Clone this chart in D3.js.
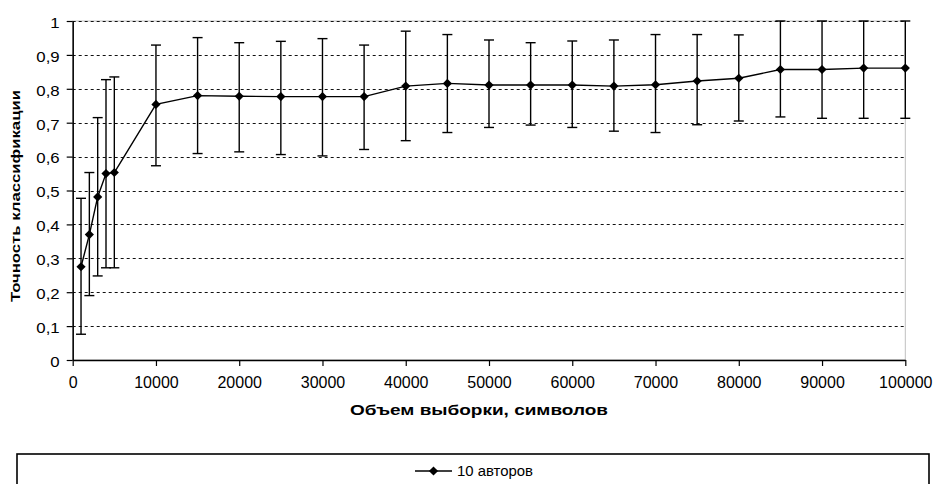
<!DOCTYPE html>
<html>
<head>
<meta charset="utf-8">
<script src="https://cdn.jsdelivr.net/npm/d3@7"></script>
<style>
  body { margin: 0; background: #fff; }
  svg { display: block; font-family: "Liberation Sans", Arial, sans-serif; }
</style>
</head>
<body>
<svg></svg>
<script>
var sizes = [1000, 2000, 3000, 4000, 5000, 10000, 15000, 20000, 25000, 30000, 35000, 40000,
  45000, 50000, 55000, 60000, 65000, 70000, 75000, 80000, 85000, 90000, 95000, 100000];
var accuracy = [0.275, 0.37, 0.481, 0.55, 0.553, 0.754, 0.78, 0.778, 0.777, 0.777, 0.777, 0.808,
  0.816, 0.811, 0.811, 0.811, 0.808, 0.812, 0.823, 0.831, 0.857, 0.857, 0.861, 0.861];
var upper = [0.477, 0.553, 0.715, 0.827, 0.835, 0.929, 0.951, 0.936, 0.94, 0.948, 0.929, 0.97,
  0.96, 0.944, 0.936, 0.941, 0.944, 0.96, 0.96, 0.959, 1, 1, 1, 1];
var lower = [0.076, 0.19, 0.248, 0.272, 0.272, 0.573, 0.609, 0.614, 0.606, 0.602, 0.621, 0.647,
  0.671, 0.686, 0.693, 0.686, 0.675, 0.671, 0.694, 0.705, 0.717, 0.713, 0.713, 0.713];
var xTicks = [0, 10000, 20000, 30000, 40000, 50000, 60000, 70000, 80000, 90000, 100000];
var yTicks = [0, 0.1, 0.2, 0.3, 0.4, 0.5, 0.6, 0.7, 0.8, 0.9, 1];
var seriesName = "10 авторов";
var xTitle = "Объем выборки, символов";
var yTitle = "Точность классификации";

var width = 935;
var height = 484;

var svg = d3.select('svg');
svg.attr('width', width).attr('height', height);

var x = d3.scaleLinear().domain([0, 100000]).range([72.7, 905.3]);
var y = d3.scaleLinear().domain([0, 1]).range([360, 21]);

var points = sizes.map(function (s, i) {
  return { x: s, y: accuracy[i], lo: lower[i], hi: upper[i] };
});

// plot area border (light gray, only visible top/right)
svg.append('rect')
  .attr('x', x(0)).attr('y', y(1))
  .attr('width', x(100000) - x(0)).attr('height', y(0) - y(1))
  .attr('fill', 'none').attr('stroke', '#c0c0c0').attr('stroke-width', 1);

// dotted gridlines
svg.append('g')
  .selectAll('line')
  .data(yTicks.filter(function (t) { return t > 0; }))
  .enter().append('line')
    .attr('x1', x(0)).attr('x2', x(100000))
    .attr('y1', function (t) { return Math.round(y(t)) + 0.5; })
    .attr('y2', function (t) { return Math.round(y(t)) + 0.5; })
    .attr('stroke', '#111')
    .attr('stroke-width', 1)
    .attr('stroke-dasharray', '3,3');

// axes
var xAxis = svg.append('g')
  .attr('transform', 'translate(0,' + y(0) + ')')
  .call(d3.axisBottom(x).tickValues(xTicks).tickSize(6).tickSizeOuter(0).tickFormat(d3.format('d')));
xAxis.select('.domain').attr('stroke', '#000').attr('stroke-width', 1.5);
xAxis.selectAll('.tick line').attr('stroke', '#000').attr('stroke-width', 1.2);
xAxis.selectAll('text')
  .attr('font-size', 16).attr('fill', '#000')
  .attr('y', 17).attr('dy', '0.71em')
  .attr('font-family', '"Liberation Sans", Arial, sans-serif');

var yAxis = svg.append('g')
  .attr('transform', 'translate(' + x(0) + ',0)')
  .call(d3.axisLeft(y).tickValues(yTicks).tickSize(6).tickSizeOuter(0)
    .tickFormat(function (d) { return d3.format('.1~f')(d).replace('.', ','); }));
yAxis.select('.domain').attr('stroke', '#000').attr('stroke-width', 1.5);
yAxis.selectAll('.tick line').attr('stroke', '#000').attr('stroke-width', 1.2);
yAxis.selectAll('text')
  .attr('font-size', 14).attr('fill', '#000')
  .attr('x', 0).attr('dy', '0.45em')
  .attr('transform', 'translate(-13,0) scale(1.2,1)')
  .attr('font-family', '"Liberation Sans", Arial, sans-serif');

// error bars
var bars = svg.append('g').selectAll('g')
  .data(points)
  .enter().append('g');
bars.append('line')
  .attr('x1', function (d) { return x(d.x); })
  .attr('x2', function (d) { return x(d.x); })
  .attr('y1', function (d) { return y(d.lo); })
  .attr('y2', function (d) { return y(d.hi); })
  .attr('stroke', '#000').attr('stroke-width', 1.4);
bars.append('line')
  .attr('x1', function (d) { return x(d.x) - 5; })
  .attr('x2', function (d) { return x(d.x) + 5; })
  .attr('y1', function (d) { return y(d.hi); })
  .attr('y2', function (d) { return y(d.hi); })
  .attr('stroke', '#000').attr('stroke-width', 1.4);
bars.append('line')
  .attr('x1', function (d) { return x(d.x) - 5; })
  .attr('x2', function (d) { return x(d.x) + 5; })
  .attr('y1', function (d) { return y(d.lo); })
  .attr('y2', function (d) { return y(d.lo); })
  .attr('stroke', '#000').attr('stroke-width', 1.4);

// series line
var line = d3.line()
  .x(function (d) { return x(d.x); })
  .y(function (d) { return y(d.y); });
svg.append('path')
  .datum(points)
  .attr('d', line)
  .attr('fill', 'none')
  .attr('stroke', '#000')
  .attr('stroke-width', 1.4);

var diamond = d3.symbol().type(d3.symbolSquare).size(42);
svg.append('g').selectAll('path')
  .data(points)
  .enter().append('path')
    .attr('d', diamond)
    .attr('transform', function (d) { return 'translate(' + x(d.x) + ',' + y(d.y) + ') rotate(45)'; })
    .attr('fill', '#000');

// axis titles
svg.append('text')
  .text(xTitle)
  .attr('x', 479).attr('y', 415)
  .attr('text-anchor', 'middle')
  .attr('font-size', 14).attr('font-weight', 'bold')
  .attr('textLength', 258).attr('lengthAdjust', 'spacingAndGlyphs');

svg.append('text')
  .text(yTitle)
  .attr('transform', 'translate(19.5,196) rotate(-90)')
  .attr('text-anchor', 'middle')
  .attr('font-size', 13.5).attr('font-weight', 'bold')
  .attr('textLength', 212).attr('lengthAdjust', 'spacingAndGlyphs');

// legend
var legend = svg.append('g');
legend.append('rect')
  .attr('x', 17).attr('y', 454)
  .attr('width', 912).attr('height', 60)
  .attr('fill', '#fff').attr('stroke', '#000').attr('stroke-width', 1.6);
legend.append('line')
  .attr('x1', 415).attr('x2', 452).attr('y1', 471).attr('y2', 471)
  .attr('stroke', '#000').attr('stroke-width', 1.4);
legend.append('path')
  .attr('d', diamond)
  .attr('transform', 'translate(433.5,471) rotate(45)')
  .attr('fill', '#000');
legend.append('text')
  .text(seriesName)
  .attr('x', 457).attr('y', 471).attr('dy', '0.35em')
  .attr('font-size', 14)
  .attr('textLength', 76).attr('lengthAdjust', 'spacingAndGlyphs');
</script>
</body>
</html>
